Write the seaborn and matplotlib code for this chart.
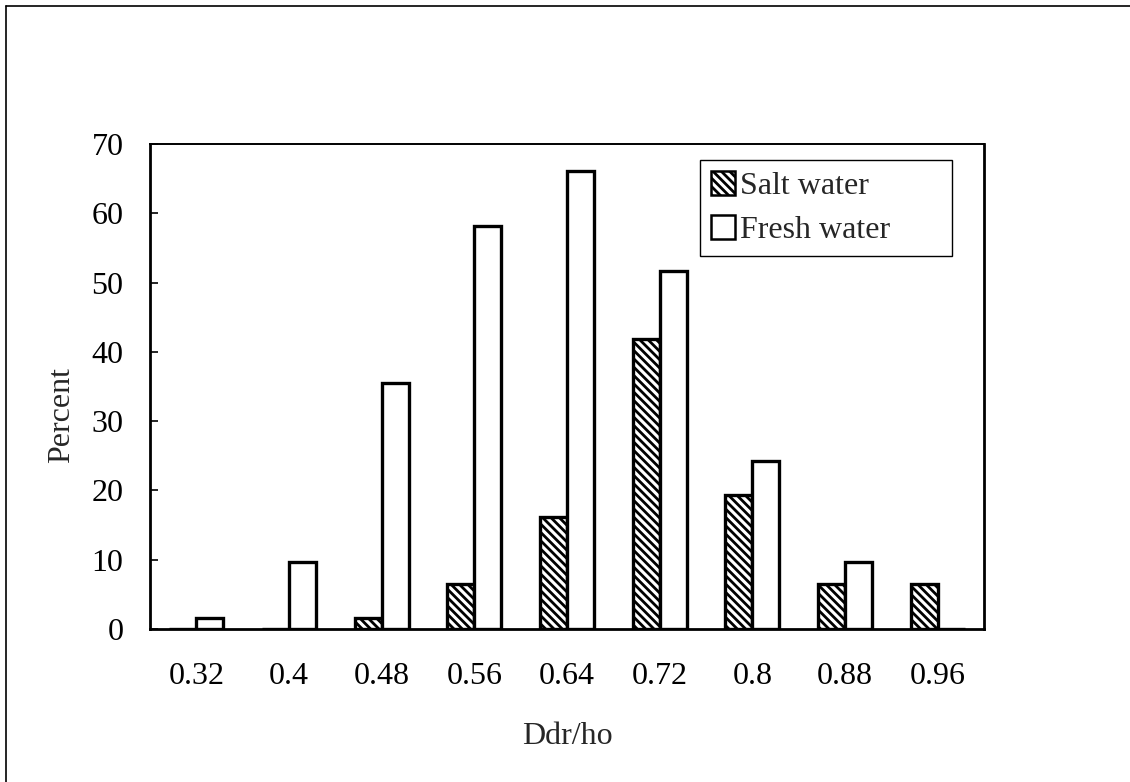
import pandas as pd
import matplotlib
matplotlib.use('Agg')
import matplotlib.pyplot as plt
from matplotlib.patches import Patch
from matplotlib.lines import Line2D
import seaborn as sns

# Data
ratio_labels = ['0.32', '0.4', '0.48', '0.56', '0.64', '0.72', '0.8', '0.88', '0.96']
salt_water = [0, 0, 1.6, 6.5, 16.1, 41.9, 19.4, 6.5, 6.5]
fresh_water = [1.6, 9.7, 35.5, 58.1, 66.1, 51.6, 24.2, 9.7, 0]
series_names = ['Salt water', 'Fresh water']
y_ticks = [0, 10, 20, 30, 40, 50, 60, 70]

sns.set_style('white')
plt.rcParams['font.family'] = ['Liberation Serif', 'DejaVu Serif']
plt.rcParams['hatch.linewidth'] = 2.0
plt.rcParams['hatch.color'] = 'black'

df = pd.DataFrame({
    'Ddr/ho': ratio_labels * 2,
    'Percent': salt_water + fresh_water,
    'Series': [series_names[0]] * len(ratio_labels) + [series_names[1]] * len(ratio_labels),
})

fig = plt.figure(figsize=(11.3, 7.82), dpi=100)
ax = fig.add_axes([150 / 1130, 1 - 629 / 782, 834 / 1130, 485 / 782])

sns.barplot(
    data=df, x='Ddr/ho', y='Percent', hue='Series',
    order=ratio_labels, hue_order=series_names,
    palette=['white', 'white'], edgecolor='black', linewidth=2.4,
    width=0.58, saturation=1, legend=False, ax=ax
)

# hatch the salt water bars
for bar in ax.containers[0]:
    bar.set_hatch('\\\\\\\\')

ax.set_ylim(0, 70)
ax.set_xlim(-0.5, len(ratio_labels) - 0.5)
ax.set_yticks(y_ticks)

for side in ['left', 'right', 'top', 'bottom']:
    ax.spines[side].set_visible(True)
    ax.spines[side].set_color('black')
    ax.spines[side].set_linewidth(2.0)
ax.spines['top'].set_linewidth(1.4)

ax.tick_params(axis='y', direction='in', length=6, width=1.2, pad=19,
               labelsize=23, left=True, colors='black')
ax.tick_params(axis='x', length=0, pad=24, labelsize=23, colors='black')

ax.set_xlabel('Ddr/ho', fontsize=23, labelpad=22)
ax.set_ylabel('Percent', fontsize=23, va='center')
ax.yaxis.set_label_coords(-0.1055, 0.441)

handles = [
    Patch(facecolor='white', edgecolor='black', hatch='\\\\\\\\', linewidth=1.8, label='Salt water'),
    Patch(facecolor='white', edgecolor='black', linewidth=1.8, label='Fresh water'),
]
leg = ax.legend(
    handles=handles, loc='upper left',
    bbox_to_anchor=(0.6595, 0.769, 0.3021, 0.198), mode='expand',
    fontsize=23, frameon=True, fancybox=False, edgecolor='black',
    framealpha=1, borderaxespad=0, borderpad=0.35, handlelength=0.75,
    handleheight=0.75, handletextpad=0.15, labelspacing=0.45
)
leg.get_frame().set_linewidth(1.0)

# outer frame of the original figure (top and left edges visible)
fig.add_artist(Line2D([6 / 1130, 1], [1 - 6 / 782, 1 - 6 / 782],
                      transform=fig.transFigure, color='black', lw=1.2))
fig.add_artist(Line2D([6 / 1130, 6 / 1130], [0, 1 - 6 / 782],
                      transform=fig.transFigure, color='black', lw=1.2))

fig.savefig('out.png', dpi=100, facecolor='white')
